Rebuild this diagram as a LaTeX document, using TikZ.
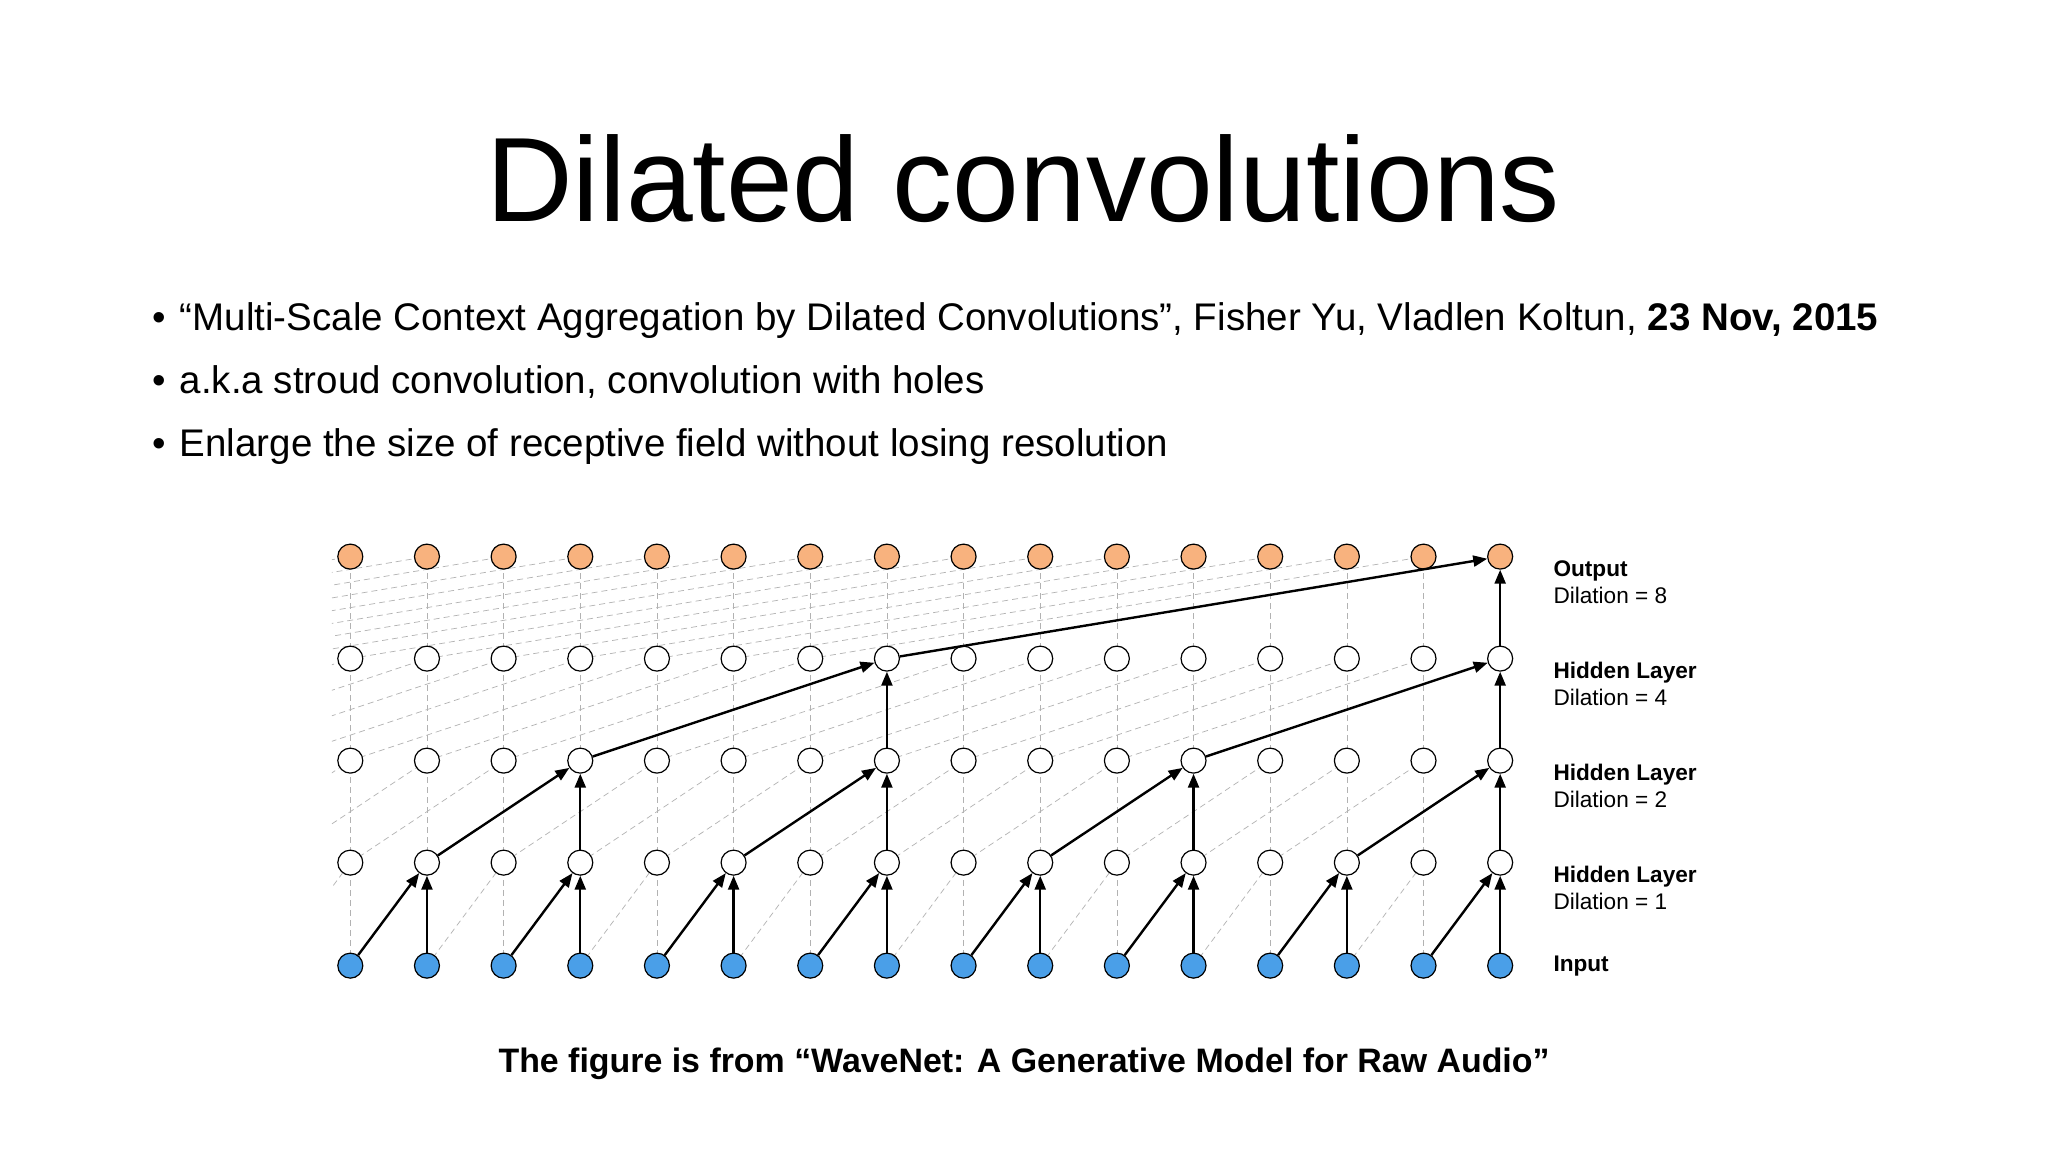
\documentclass[tikz,border=0pt]{standalone}
\usepackage{fontspec}
\setmainfont{Liberation Sans}
\usetikzlibrary{arrows.meta,calc}
\definecolor{outc}{HTML}{F8B27E}
\definecolor{inc}{HTML}{4A9FE8}
\begin{document}
\begin{tikzpicture}[x=0.9904pt,y=-0.9904pt,
  nd/.style={circle,draw=black,line width=1.2pt,minimum size=25pt,inner sep=0pt},
  faint/.style={gray!60,line width=0.7pt,dash pattern=on 6pt off 4pt},
  bold/.style={line width=2.4pt,-{Triangle[length=14pt,width=11pt]}},
  lab/.style={anchor=west,font=\fontsize{22.6}{27}\selectfont,align=left}]
\useasboundingbox (0,0) rectangle (2067.85,1163.2);
\fill[white] (0,0) rectangle (2067.85,1163.2);
\node (title) at (1033,180) {\fontsize{120}{140}\selectfont Dilated convolutions};
\node[anchor=base west] (b1) at (150,334) {\fontsize{38.5}{42}\selectfont •};
\node[anchor=base west] (t1) at (178,334) {\fontsize{38.5}{42}\selectfont “Multi-Scale Context Aggregation by Dilated Convolutions”, Fisher Yu, Vladlen Koltun, \textbf{23 Nov, 2015}};
\node[anchor=base west] (b2) at (150,397) {\fontsize{38.5}{42}\selectfont •};
\node[anchor=base west] (t2) at (178,397) {\fontsize{38.5}{42}\selectfont a.k.a stroud convolution, convolution with holes};
\node[anchor=base west] (b3) at (150,461) {\fontsize{38.5}{42}\selectfont •};
\node[anchor=base west] (t3) at (178,461) {\fontsize{38.5}{42}\selectfont Enlarge the size of receptive field without losing resolution};
% nodes
\foreach \l/\y in {0/975,1/871,2/768,3/665,4/562}{
  \foreach \i in {0,...,15}{
    \coordinate (c\l-\i) at ({353.7+77.4*\i},\y);
  }
}
\begin{scope}
\clip (335,540) rectangle (1530,990);
\foreach \l/\d [evaluate=\l as \n using int(\l+1)] in {0/1,1/2,2/4,3/8}{
  \foreach \i in {0,...,15}{
    \draw[faint] (c\l-\i) -- (c\n-\i);
    \draw[faint] ($(c\l-\i)+({-77.4*\d},0)$) -- (c\n-\i);
  }
}
\end{scope}
\foreach \i in {0,...,15}{
  \node[nd,fill=inc] (n0-\i) at (c0-\i) {};
  \node[nd,fill=white] (n1-\i) at (c1-\i) {};
  \node[nd,fill=white] (n2-\i) at (c2-\i) {};
  \node[nd,fill=white] (n3-\i) at (c3-\i) {};
  \node[nd,fill=outc] (n4-\i) at (c4-\i) {};
}
\foreach \i [evaluate=\i as \p using int(\i-1)] in {1,3,...,15}{
  \draw[bold] (n0-\i) -- (n1-\i);
  \draw[bold] (n0-\p) -- (n1-\i);
}
\foreach \i [evaluate=\i as \p using int(\i-2)] in {3,7,11,15}{
  \draw[bold] (n1-\i) -- (n2-\i);
  \draw[bold] (n1-\p) -- (n2-\i);
}
\foreach \i [evaluate=\i as \p using int(\i-4)] in {7,15}{
  \draw[bold] (n2-\i) -- (n3-\i);
  \draw[bold] (n2-\p) -- (n3-\i);
}
\draw[bold] (n3-15) -- (n4-15);
\draw[bold] (n3-7) -- (n4-15);
\node[lab] (l4) at (1565,588) {\textbf{Output}\\Dilation = 8};
\node[lab] (l3) at (1565,691) {\textbf{Hidden Layer}\\Dilation = 4};
\node[lab] (l2) at (1565,794) {\textbf{Hidden Layer}\\Dilation = 2};
\node[lab] (l1) at (1565,897) {\textbf{Hidden Layer}\\Dilation = 1};
\node[lab] (l0) at (1565,975) {\textbf{Input}};
\node (cap) at (1034,1074) {\fontsize{33.9}{38}\selectfont\bfseries The figure is from “WaveNet: A Generative Model for Raw Audio”};
\end{tikzpicture}
\end{document}
